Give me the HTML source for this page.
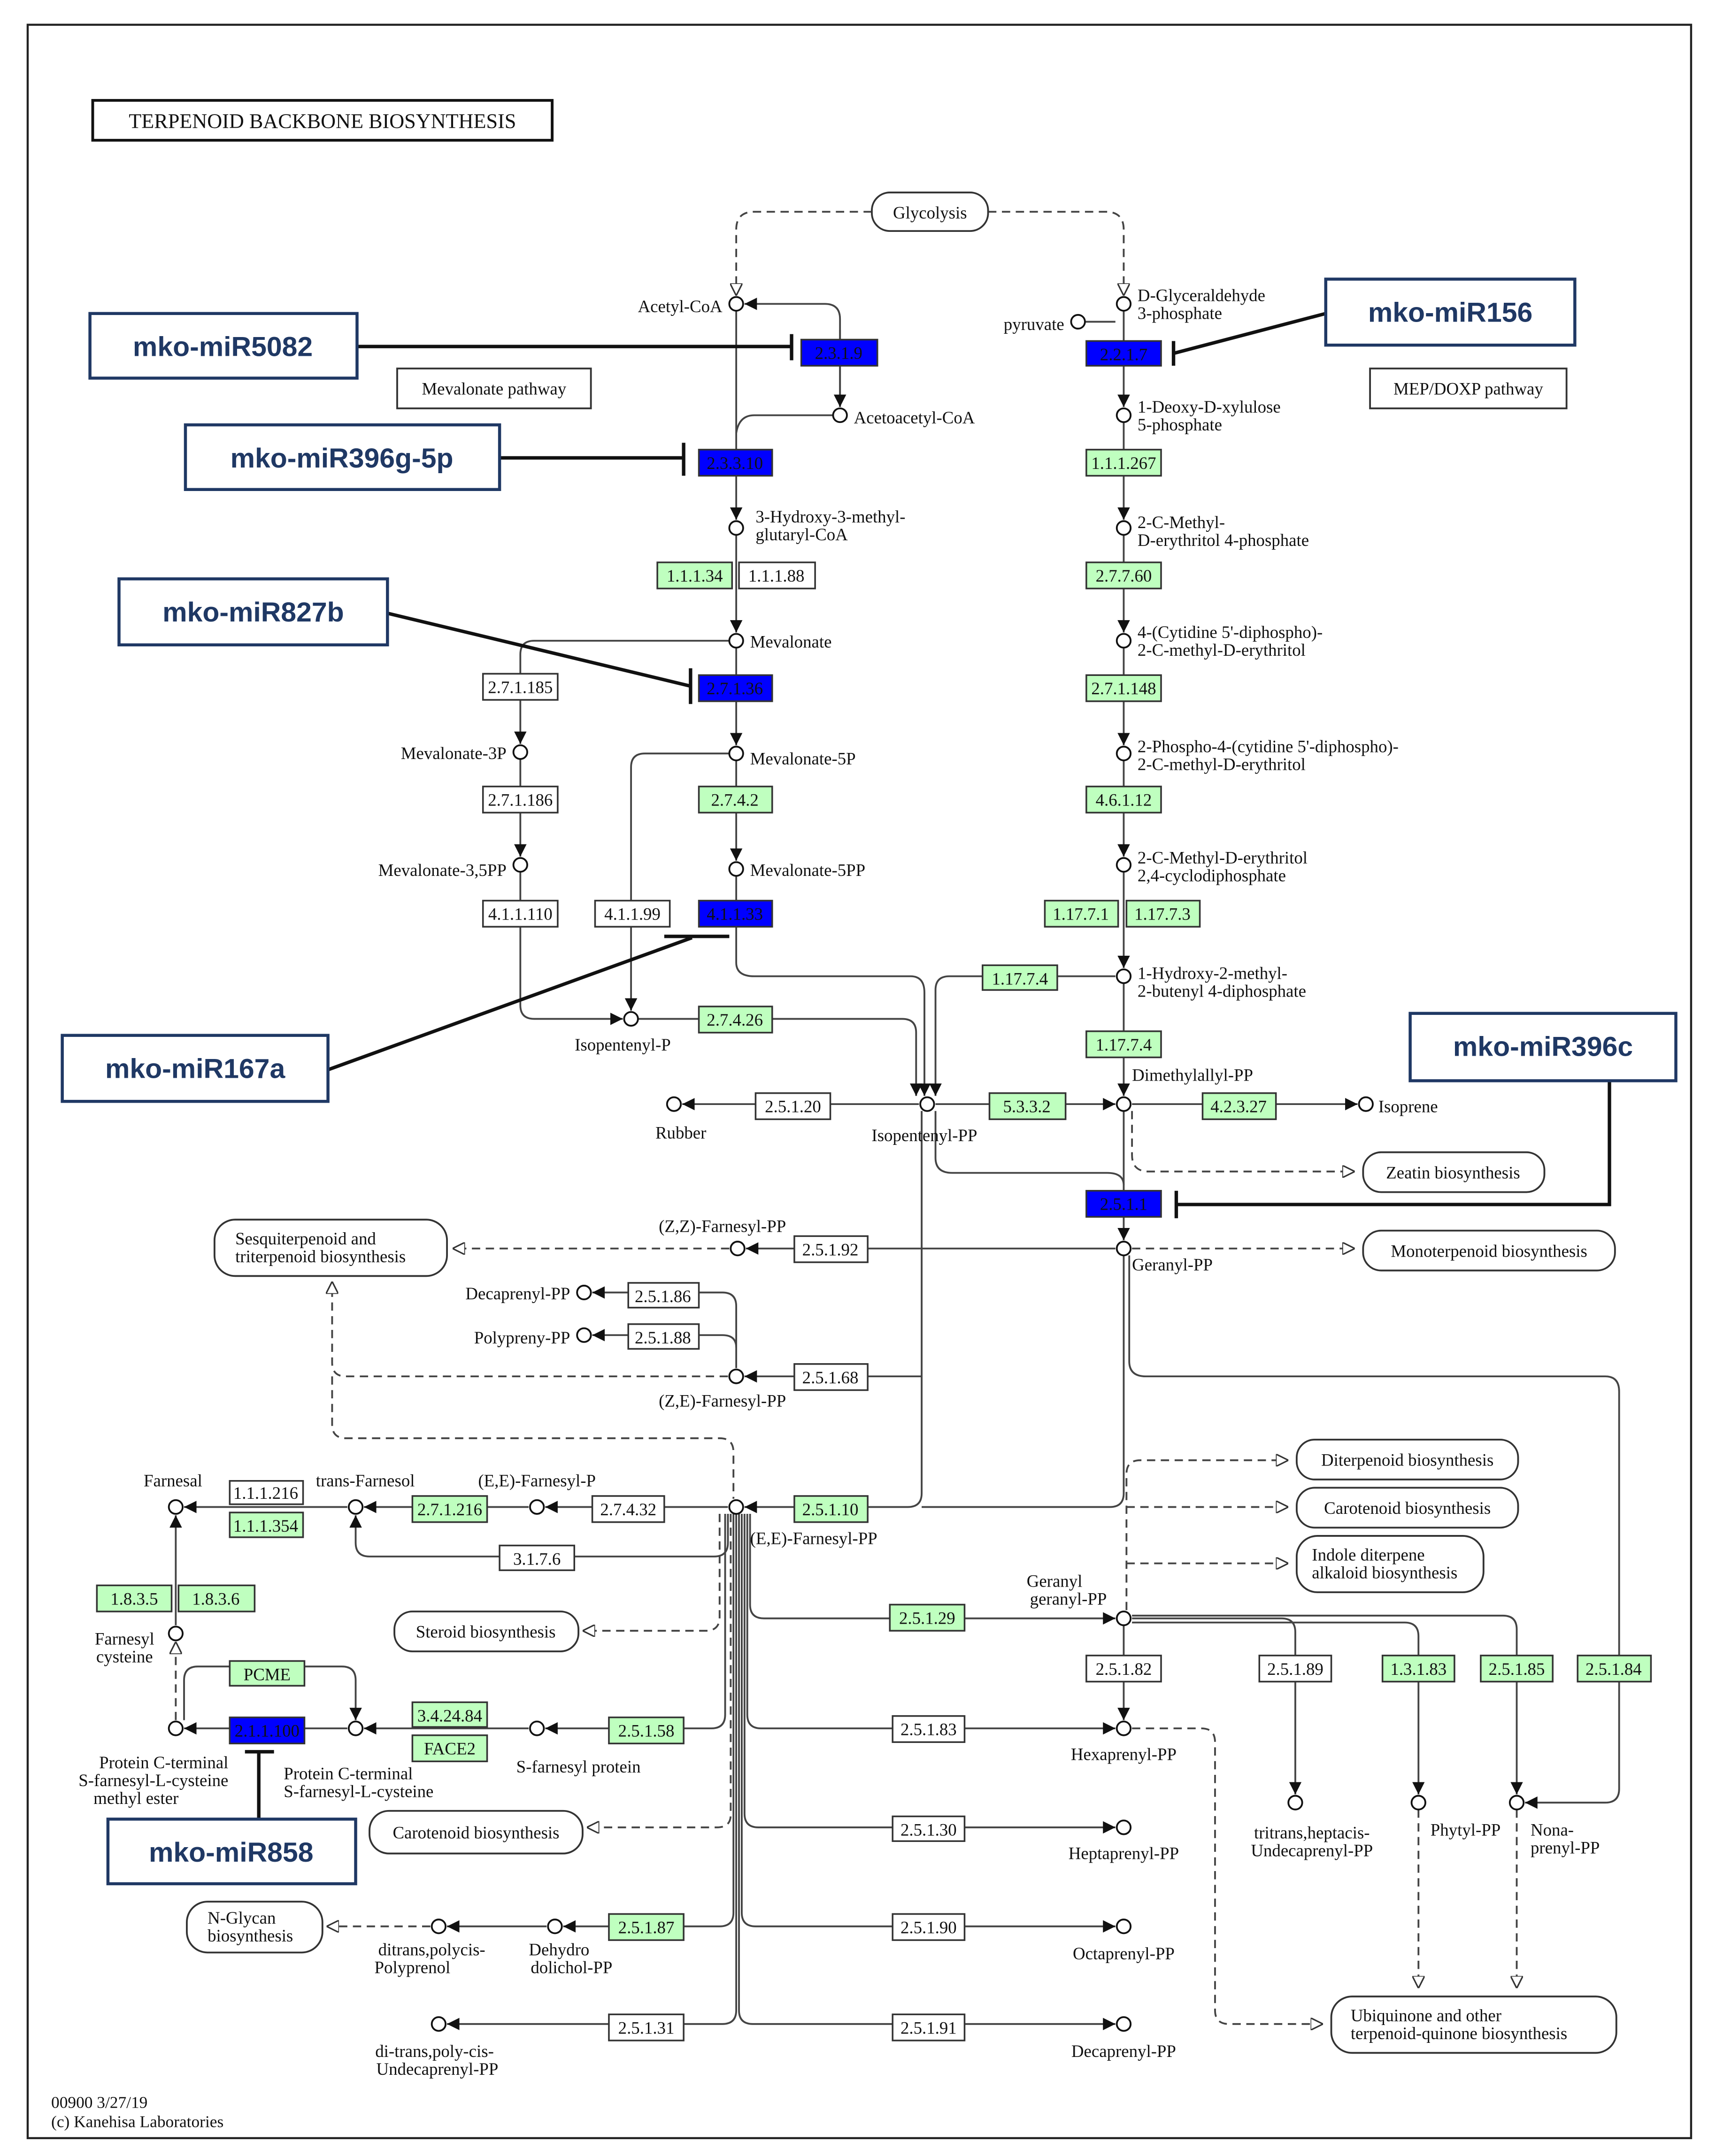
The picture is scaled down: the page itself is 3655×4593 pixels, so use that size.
<!DOCTYPE html>
<html><head><meta charset="utf-8"><style>
html,body{margin:0;padding:0;background:#fff}
svg{display:block}
text{font-family:"Liberation Serif",serif;font-size:12.5px;fill:#111}
.e{text-anchor:middle}
.m{font-family:"Liberation Sans",sans-serif;font-weight:bold;font-size:20px;fill:#1f3864;text-anchor:middle}
</style></head><body>
<svg width="3655" height="4593" viewBox="0 0 1240 1568" preserveAspectRatio="none" xmlns="http://www.w3.org/2000/svg">
<defs>
<marker id="a" viewBox="0 0 10 10" refX="10" refY="5" markerWidth="9" markerHeight="9" markerUnits="userSpaceOnUse" orient="auto"><path d="M0,0L10,5L0,10z" fill="#111"/></marker>
<marker id="h" viewBox="0 0 10 10" refX="10" refY="5" markerWidth="9" markerHeight="9" markerUnits="userSpaceOnUse" orient="auto"><path d="M0,0L10,5L0,10z" fill="#fff" stroke="#333" stroke-width="1.2"/></marker>
</defs>
<rect x="20" y="18" width="1202" height="1537" fill="#fff" stroke="#222" stroke-width="1.5"/>
<rect x="67" y="73" width="332" height="29" fill="#fff" stroke="#111" stroke-width="2"/>
<text x="233" y="93" class="e" style="font-size:15px">TERPENOID BACKBONE BIOSYNTHESIS</text>

<g fill="none" stroke="#444" stroke-width="1.3">
<!-- glycolysis dashed -->
<path d="M630,154H545Q532,154 532,167V215" stroke-dasharray="6,4" marker-end="url(#h)"/>
<path d="M714,154H799Q812,154 812,167V215" stroke-dasharray="6,4" marker-end="url(#h)"/>
<!-- mevalonate column -->
<path d="M607,296V232Q607,221 596,221H538" marker-end="url(#a)"/>
<path d="M607,240V296" marker-end="url(#a)"/>
<path d="M532,226V378" marker-end="url(#a)"/>
<path d="M602,302H545Q534,302 532,315"/>
<path d="M532,389V460" marker-end="url(#a)"/>
<path d="M532,471V542" marker-end="url(#a)"/>
<path d="M532,553V626" marker-end="url(#a)"/>
<path d="M532,637V700Q532,710 545,710H658Q668,710 668,722V797" marker-end="url(#a)"/>
<path d="M527,466H386Q376,466 376,476V541" marker-end="url(#a)"/>
<path d="M376,552V623" marker-end="url(#a)"/>
<path d="M376,634V731Q376,741 386,741H450" marker-end="url(#a)"/>
<path d="M527,548H466Q456,548 456,558V735" marker-end="url(#a)"/>
<path d="M461,741H652Q662,741 662,751V797" marker-end="url(#a)"/>
<path d="M664,803H493" marker-end="url(#a)"/>
<path d="M676,803H806" marker-end="url(#a)"/>
<path d="M806,710H686Q676,710 676,720V797" marker-end="url(#a)"/>
<!-- MEP -->
<path d="M784,234H806" />
<path d="M812,226V296" marker-end="url(#a)"/>
<path d="M812,307V378" marker-end="url(#a)"/>
<path d="M812,389V460" marker-end="url(#a)"/>
<path d="M812,471V542" marker-end="url(#a)"/>
<path d="M812,553V623" marker-end="url(#a)"/>
<path d="M812,634V704" marker-end="url(#a)"/>
<path d="M812,715V797" marker-end="url(#a)"/>
<path d="M818,803H981" marker-end="url(#a)"/>
<path d="M812,808V902" marker-end="url(#a)"/>
<path d="M676,808V842Q676,853 688,853H800Q812,853 812,862"/>
<path d="M818,808V840Q818,852 830,852H979" stroke-dasharray="6,4" marker-end="url(#h)"/>
<path d="M818,908H979" stroke-dasharray="6,4" marker-end="url(#h)"/>
<!-- GPP down -->
<path d="M806,908H539" marker-end="url(#a)"/>
<path d="M527,908H327" stroke-dasharray="6,4" marker-end="url(#h)"/>
<path d="M666,808V1086Q666,1096 656,1096H538" marker-end="url(#a)"/>
<path d="M666,1001H538" marker-end="url(#a)"/>
<path d="M812,913V1086Q812,1096 802,1096H666"/>
<path d="M526,1001H250Q240,1001 240,991V932" stroke-dasharray="6,4" marker-end="url(#h)"/>
<path d="M240,1001V1036Q240,1046 250,1046H520Q530,1046 530,1056V1090" stroke-dasharray="6,4"/>
<path d="M532,995V950Q532,940 522,940H428" marker-end="url(#a)"/>
<path d="M532,980Q532,971 522,971H428" marker-end="url(#a)"/>
<path d="M816,913V990Q816,1001 828,1001H1160Q1170,1001 1170,1012V1301Q1170,1311 1160,1311H1102" marker-end="url(#a)"/>
<!-- FPP left -->
<path d="M526,1096H394" marker-end="url(#a)"/>
<path d="M382,1096H263" marker-end="url(#a)"/>
<path d="M251,1096H133" marker-end="url(#a)"/>
<path d="M526,1101V1122Q526,1132 516,1132H267Q257,1132 257,1122V1102" marker-end="url(#a)"/>
<path d="M127,1182V1102" marker-end="url(#a)"/>
<path d="M127,1251V1194" stroke-dasharray="6,4" marker-end="url(#h)"/>
<path d="M251,1257H133" marker-end="url(#a)"/>
<path d="M382,1257H263" marker-end="url(#a)"/>
<path d="M133,1251V1222Q133,1212 143,1212H247Q257,1212 257,1222V1251" marker-end="url(#a)"/>
<!-- FPP downward bundle -->
<path d="M520,1101V1176Q520,1186 510,1186H421" stroke-dasharray="6,4" marker-end="url(#h)"/>
<path d="M524,1101V1247Q524,1257 514,1257H394" marker-end="url(#a)"/>
<path d="M528,1101V1320Q528,1329 518,1329H424" stroke-dasharray="6,4" marker-end="url(#h)"/>
<path d="M530,1101V1391Q530,1401 520,1401H407" marker-end="url(#a)"/>
<path d="M395,1401H323" marker-end="url(#a)"/>
<path d="M311,1401H236" stroke-dasharray="6,4" marker-end="url(#h)"/>
<path d="M532,1101V1462Q532,1472 522,1472H323" marker-end="url(#a)"/>
<path d="M534,1101V1462Q534,1472 544,1472H806" marker-end="url(#a)"/>
<path d="M536,1101V1391Q536,1401 546,1401H806" marker-end="url(#a)"/>
<path d="M538,1101V1319Q538,1329 548,1329H806" marker-end="url(#a)"/>
<path d="M540,1101V1247Q540,1257 550,1257H806" marker-end="url(#a)"/>
<path d="M542,1101V1167Q542,1177 552,1177H806" marker-end="url(#a)"/>
<!-- GGPP -->
<path d="M812,1182V1251" marker-end="url(#a)"/>
<path d="M818,1177H926Q936,1177 936,1187V1305" marker-end="url(#a)"/>
<path d="M818,1180H1015Q1025,1180 1025,1190V1305" marker-end="url(#a)"/>
<path d="M818,1175H1086Q1096,1175 1096,1185V1305" marker-end="url(#a)"/>
<path d="M814,1171V1072Q814,1062 824,1062H931" stroke-dasharray="6,4" marker-end="url(#h)"/>
<path d="M814,1096H931" stroke-dasharray="6,4" marker-end="url(#h)"/>
<path d="M814,1137H931" stroke-dasharray="6,4" marker-end="url(#h)"/>
<path d="M818,1257H868Q878,1257 878,1267V1462Q878,1472 888,1472H956" stroke-dasharray="6,4" marker-end="url(#h)"/>
<path d="M1025,1316V1446" stroke-dasharray="6,4" marker-end="url(#h)"/>
<path d="M1096,1316V1446" stroke-dasharray="6,4" marker-end="url(#h)"/>
</g>

<!-- inhibition lines -->
<g stroke="#111" stroke-width="2.5" fill="none">
<path d="M258,252H572M572,243V262"/>
<path d="M958,228L848,257M848,248V266"/>
<path d="M361,333H494M494,322V346"/>
<path d="M280,446L499,499M499,486V512"/>
<path d="M237,778L500,682M480,681H527"/>
<path d="M1163,786V876H850M850,866V886"/>
<path d="M187,1323V1274M177,1274H198"/>
</g>

<!-- compounds -->
<g fill="#fff" stroke="#111" stroke-width="1.3">
<circle cx="532" cy="221" r="5"/><circle cx="607" cy="302" r="5"/><circle cx="532" cy="384" r="5"/>
<circle cx="532" cy="466" r="5"/><circle cx="532" cy="548" r="5"/><circle cx="532" cy="632" r="5"/>
<circle cx="376" cy="547" r="5"/><circle cx="376" cy="629" r="5"/><circle cx="456" cy="741" r="5"/>
<circle cx="670" cy="803" r="5"/><circle cx="487" cy="803" r="5"/>
<circle cx="812" cy="221" r="5"/><circle cx="779" cy="234" r="5"/><circle cx="812" cy="302" r="5"/>
<circle cx="812" cy="384" r="5"/><circle cx="812" cy="466" r="5"/><circle cx="812" cy="548" r="5"/>
<circle cx="812" cy="629" r="5"/><circle cx="812" cy="710" r="5"/><circle cx="812" cy="803" r="5"/>
<circle cx="987" cy="803" r="5"/><circle cx="812" cy="908" r="5"/><circle cx="533" cy="908" r="5"/>
<circle cx="532" cy="1001" r="5"/><circle cx="422" cy="940" r="5"/><circle cx="422" cy="971" r="5"/>
<circle cx="532" cy="1096" r="5"/><circle cx="388" cy="1096" r="5"/><circle cx="257" cy="1096" r="5"/>
<circle cx="127" cy="1096" r="5"/><circle cx="127" cy="1188" r="5"/><circle cx="127" cy="1257" r="5"/>
<circle cx="257" cy="1257" r="5"/><circle cx="388" cy="1257" r="5"/><circle cx="317" cy="1401" r="5"/>
<circle cx="401" cy="1401" r="5"/><circle cx="317" cy="1472" r="5"/><circle cx="812" cy="1177" r="5"/>
<circle cx="812" cy="1257" r="5"/><circle cx="812" cy="1329" r="5"/><circle cx="812" cy="1401" r="5"/>
<circle cx="812" cy="1472" r="5"/><circle cx="936" cy="1311" r="5"/><circle cx="1025" cy="1311" r="5"/>
<circle cx="1096" cy="1311" r="5"/>
</g>

<!-- map boxes -->
<g fill="#fff" stroke="#333" stroke-width="1.3">
<rect x="630" y="140" width="84" height="28" rx="13"/>
<rect x="985" y="838" width="131" height="29" rx="13"/>
<rect x="985" y="895" width="182" height="29" rx="13"/>
<rect x="155" y="887" width="168" height="41" rx="15"/>
<rect x="937" y="1047" width="160" height="29" rx="13"/>
<rect x="937" y="1082" width="160" height="29" rx="13"/>
<rect x="937" y="1117" width="135" height="41" rx="15"/>
<rect x="285" y="1172" width="133" height="29" rx="13"/>
<rect x="267" y="1317" width="154" height="31" rx="14"/>
<rect x="135" y="1383" width="98" height="37" rx="15"/>
<rect x="962" y="1452" width="206" height="41" rx="15"/>
<rect x="287" y="268" width="140" height="29"/>
<rect x="990" y="268" width="142" height="29"/>
</g>
<g>
<text x="672" y="159" class="e">Glycolysis</text>
<text x="1050" y="857" class="e">Zeatin biosynthesis</text>
<text x="1076" y="914" class="e">Monoterpenoid biosynthesis</text>
<text x="170" y="905">Sesquiterpenoid and</text><text x="170" y="918">triterpenoid biosynthesis</text>
<text x="1017" y="1066" class="e">Diterpenoid biosynthesis</text>
<text x="1017" y="1101" class="e">Carotenoid biosynthesis</text>
<text x="948" y="1135">Indole diterpene</text><text x="948" y="1148">alkaloid biosynthesis</text>
<text x="351" y="1191" class="e">Steroid biosynthesis</text>
<text x="344" y="1337" class="e">Carotenoid biosynthesis</text>
<text x="150" y="1399">N-Glycan</text><text x="150" y="1412">biosynthesis</text>
<text x="976" y="1470">Ubiquinone and other</text><text x="976" y="1483">terpenoid-quinone biosynthesis</text>
<text x="357" y="287" class="e">Mevalonate pathway</text>
<text x="1061" y="287" class="e">MEP/DOXP pathway</text>
</g>

<!-- enzymes -->
<g stroke="#333" stroke-width="1.2">
<g fill="#0000ff">
<rect x="579" y="247" width="55" height="19"/><rect x="505" y="327" width="53" height="19"/>
<rect x="505" y="491" width="53" height="19"/><rect x="505" y="655" width="53" height="19"/>
<rect x="785" y="248" width="54" height="18"/><rect x="785" y="866" width="54" height="19"/>
<rect x="166" y="1249" width="54" height="19"/>
</g>
<g fill="#bfffbf">
<rect x="475" y="409" width="54" height="19"/><rect x="505" y="572" width="53" height="19"/>
<rect x="505" y="732" width="53" height="19"/><rect x="715" y="795" width="55" height="19"/>
<rect x="785" y="327" width="54" height="19"/><rect x="785" y="409" width="54" height="19"/>
<rect x="785" y="491" width="54" height="19"/><rect x="785" y="572" width="54" height="19"/>
<rect x="755" y="655" width="53" height="19"/><rect x="814" y="655" width="53" height="19"/>
<rect x="710" y="702" width="54" height="18"/><rect x="785" y="750" width="54" height="19"/>
<rect x="869" y="795" width="53" height="19"/><rect x="574" y="1088" width="53" height="19"/>
<rect x="298" y="1088" width="54" height="19"/><rect x="166" y="1100" width="53" height="18"/>
<rect x="70" y="1153" width="54" height="19"/><rect x="129" y="1153" width="55" height="19"/>
<rect x="166" y="1208" width="54" height="18"/><rect x="298" y="1238" width="54" height="18"/>
<rect x="298" y="1262" width="54" height="19"/><rect x="440" y="1249" width="54" height="19"/>
<rect x="440" y="1392" width="54" height="19"/><rect x="643" y="1167" width="54" height="19"/>
<rect x="999" y="1204" width="52" height="19"/><rect x="1070" y="1204" width="52" height="19"/>
<rect x="1140" y="1204" width="53" height="19"/>
</g>
<g fill="#fff">
<rect x="534" y="409" width="55" height="19"/><rect x="349" y="490" width="54" height="19"/>
<rect x="349" y="572" width="54" height="19"/><rect x="349" y="655" width="54" height="19"/>
<rect x="430" y="655" width="54" height="19"/><rect x="546" y="795" width="54" height="19"/>
<rect x="574" y="899" width="53" height="19"/><rect x="574" y="992" width="53" height="19"/>
<rect x="454" y="933" width="51" height="18"/><rect x="454" y="963" width="51" height="18"/>
<rect x="428" y="1088" width="52" height="19"/><rect x="166" y="1077" width="53" height="17"/>
<rect x="361" y="1124" width="54" height="18"/><rect x="440" y="1465" width="54" height="19"/>
<rect x="645" y="1248" width="52" height="19"/><rect x="785" y="1204" width="54" height="19"/>
<rect x="645" y="1321" width="52" height="18"/><rect x="645" y="1392" width="52" height="19"/>
<rect x="645" y="1465" width="52" height="19"/><rect x="910" y="1204" width="52" height="19"/>
</g>
</g>
<g class="e" text-anchor="middle">
<text x="606" y="261" class="e">2.3.1.9</text><text x="531" y="341" class="e">2.3.3.10</text>
<text x="531" y="505" class="e">2.7.1.36</text><text x="531" y="669" class="e">4.1.1.33</text>
<text x="812" y="262" class="e">2.2.1.7</text><text x="812" y="880" class="e">2.5.1.1</text>
<text x="193" y="1263" class="e">2.1.1.100</text>
<text x="502" y="423" class="e">1.1.1.34</text><text x="531" y="586" class="e">2.7.4.2</text>
<text x="531" y="746" class="e">2.7.4.26</text><text x="742" y="809" class="e">5.3.3.2</text>
<text x="812" y="341" class="e">1.1.1.267</text><text x="812" y="423" class="e">2.7.7.60</text>
<text x="812" y="505" class="e">2.7.1.148</text><text x="812" y="586" class="e">4.6.1.12</text>
<text x="781" y="669" class="e">1.17.7.1</text><text x="840" y="669" class="e">1.17.7.3</text>
<text x="737" y="716" class="e">1.17.7.4</text><text x="812" y="764" class="e">1.17.7.4</text>
<text x="895" y="809" class="e">4.2.3.27</text><text x="600" y="1102" class="e">2.5.1.10</text>
<text x="325" y="1102" class="e">2.7.1.216</text><text x="192" y="1114" class="e">1.1.1.354</text>
<text x="97" y="1167" class="e">1.8.3.5</text><text x="156" y="1167" class="e">1.8.3.6</text>
<text x="193" y="1222" class="e">PCME</text><text x="325" y="1252" class="e">3.4.24.84</text>
<text x="325" y="1276" class="e">FACE2</text><text x="467" y="1263" class="e">2.5.1.58</text>
<text x="467" y="1406" class="e">2.5.1.87</text><text x="670" y="1181" class="e">2.5.1.29</text>
<text x="1025" y="1218" class="e">1.3.1.83</text><text x="1096" y="1218" class="e">2.5.1.85</text>
<text x="1166" y="1218" class="e">2.5.1.84</text>
<text x="561" y="423" class="e">1.1.1.88</text><text x="376" y="504" class="e">2.7.1.185</text>
<text x="376" y="586" class="e">2.7.1.186</text><text x="376" y="669" class="e">4.1.1.110</text>
<text x="457" y="669" class="e">4.1.1.99</text><text x="573" y="809" class="e">2.5.1.20</text>
<text x="600" y="913" class="e">2.5.1.92</text><text x="600" y="1006" class="e">2.5.1.68</text>
<text x="479" y="947" class="e">2.5.1.86</text><text x="479" y="977" class="e">2.5.1.88</text>
<text x="454" y="1102" class="e">2.7.4.32</text><text x="192" y="1090" class="e">1.1.1.216</text>
<text x="388" y="1138" class="e">3.1.7.6</text><text x="467" y="1479" class="e">2.5.1.31</text>
<text x="671" y="1262" class="e">2.5.1.83</text><text x="812" y="1218" class="e">2.5.1.82</text>
<text x="671" y="1335" class="e">2.5.1.30</text><text x="671" y="1406" class="e">2.5.1.90</text>
<text x="671" y="1479" class="e">2.5.1.91</text><text x="936" y="1218" class="e">2.5.1.89</text>
</g>

<!-- compound labels -->
<g>
<text x="522" y="227" text-anchor="end">Acetyl-CoA</text>
<text x="617" y="308">Acetoacetyl-CoA</text>
<text x="546" y="380">3-Hydroxy-3-methyl-</text><text x="546" y="393">glutaryl-CoA</text>
<text x="542" y="471">Mevalonate</text>
<text x="542" y="556">Mevalonate-5P</text>
<text x="542" y="637">Mevalonate-5PP</text>
<text x="366" y="552" text-anchor="end">Mevalonate-3P</text>
<text x="366" y="637" text-anchor="end">Mevalonate-3,5PP</text>
<text x="450" y="764" text-anchor="middle">Isopentenyl-P</text>
<text x="668" y="830" text-anchor="middle">Isopentenyl-PP</text>
<text x="492" y="828" text-anchor="middle">Rubber</text>
<text x="822" y="219">D-Glyceraldehyde</text><text x="822" y="232">3-phosphate</text>
<text x="769" y="240" text-anchor="end">pyruvate</text>
<text x="822" y="300">1-Deoxy-D-xylulose</text><text x="822" y="313">5-phosphate</text>
<text x="822" y="384">2-C-Methyl-</text><text x="822" y="397">D-erythritol 4-phosphate</text>
<text x="822" y="464">4-(Cytidine 5'-diphospho)-</text><text x="822" y="477">2-C-methyl-D-erythritol</text>
<text x="822" y="547">2-Phospho-4-(cytidine 5'-diphospho)-</text><text x="822" y="560">2-C-methyl-D-erythritol</text>
<text x="822" y="628">2-C-Methyl-D-erythritol</text><text x="822" y="641">2,4-cyclodiphosphate</text>
<text x="822" y="712">1-Hydroxy-2-methyl-</text><text x="822" y="725">2-butenyl 4-diphosphate</text>
<text x="818" y="786">Dimethylallyl-PP</text>
<text x="996" y="809">Isoprene</text>
<text x="818" y="924">Geranyl-PP</text>
<text x="522" y="896" text-anchor="middle">(Z,Z)-Farnesyl-PP</text>
<text x="522" y="1023" text-anchor="middle">(Z,E)-Farnesyl-PP</text>
<text x="412" y="945" text-anchor="end">Decaprenyl-PP</text>
<text x="412" y="977" text-anchor="end">Polypreny-PP</text>
<text x="542" y="1123">(E,E)-Farnesyl-PP</text>
<text x="388" y="1081" text-anchor="middle">(E,E)-Farnesyl-P</text>
<text x="264" y="1081" text-anchor="middle">trans-Farnesol</text>
<text x="125" y="1081" text-anchor="middle">Farnesal</text>
<text x="90" y="1196" text-anchor="middle">Farnesyl</text><text x="90" y="1209" text-anchor="middle">cysteine</text>
<text x="165" y="1286" text-anchor="end">Protein C-terminal</text>
<text x="165" y="1299" text-anchor="end">S-farnesyl-L-cysteine</text>
<text x="129" y="1312" text-anchor="end">methyl ester</text>
<text x="205" y="1294">Protein C-terminal</text><text x="205" y="1307">S-farnesyl-L-cysteine</text>
<text x="418" y="1289" text-anchor="middle">S-farnesyl protein</text>
<text x="312" y="1422" text-anchor="middle">ditrans,polycis-</text><text x="298" y="1435" text-anchor="middle">Polyprenol</text>
<text x="404" y="1422" text-anchor="middle">Dehydro</text><text x="413" y="1435" text-anchor="middle">dolichol-PP</text>
<text x="314" y="1496" text-anchor="middle">di-trans,poly-cis-</text><text x="316" y="1509" text-anchor="middle">Undecaprenyl-PP</text>
<text x="762" y="1154" text-anchor="middle">Geranyl</text><text x="772" y="1167" text-anchor="middle">geranyl-PP</text>
<text x="812" y="1280" text-anchor="middle">Hexaprenyl-PP</text>
<text x="812" y="1352" text-anchor="middle">Heptaprenyl-PP</text>
<text x="812" y="1425" text-anchor="middle">Octaprenyl-PP</text>
<text x="812" y="1496" text-anchor="middle">Decaprenyl-PP</text>
<text x="948" y="1337" text-anchor="middle">tritrans,heptacis-</text><text x="948" y="1350" text-anchor="middle">Undecaprenyl-PP</text>
<text x="1059" y="1335" text-anchor="middle">Phytyl-PP</text>
<text x="1106" y="1335">Nona-</text><text x="1106" y="1348">prenyl-PP</text>
<text x="37" y="1533" style="font-size:12px">00900 3/27/19</text>
<text x="37" y="1547" style="font-size:12px">(c) Kanehisa Laboratories</text>
</g>

<!-- miRNA boxes -->
<g fill="#fff" stroke="#1f3864" stroke-width="2.2">
<rect x="65" y="228" width="193" height="47"/><rect x="958" y="203" width="180" height="48"/>
<rect x="134" y="309" width="227" height="47"/><rect x="86" y="421" width="194" height="48"/>
<rect x="45" y="753" width="192" height="48"/><rect x="1019" y="737" width="192" height="49"/>
<rect x="78" y="1323" width="179" height="47"/>
</g>
<text x="161" y="259" class="m">mko-miR5082</text>
<text x="1048" y="234" class="m">mko-miR156</text>
<text x="247" y="340" class="m">mko-miR396g-5p</text>
<text x="183" y="452" class="m">mko-miR827b</text>
<text x="141" y="784" class="m">mko-miR167a</text>
<text x="1115" y="768" class="m">mko-miR396c</text>
<text x="167" y="1354" class="m">mko-miR858</text>
</svg>
</body></html>
